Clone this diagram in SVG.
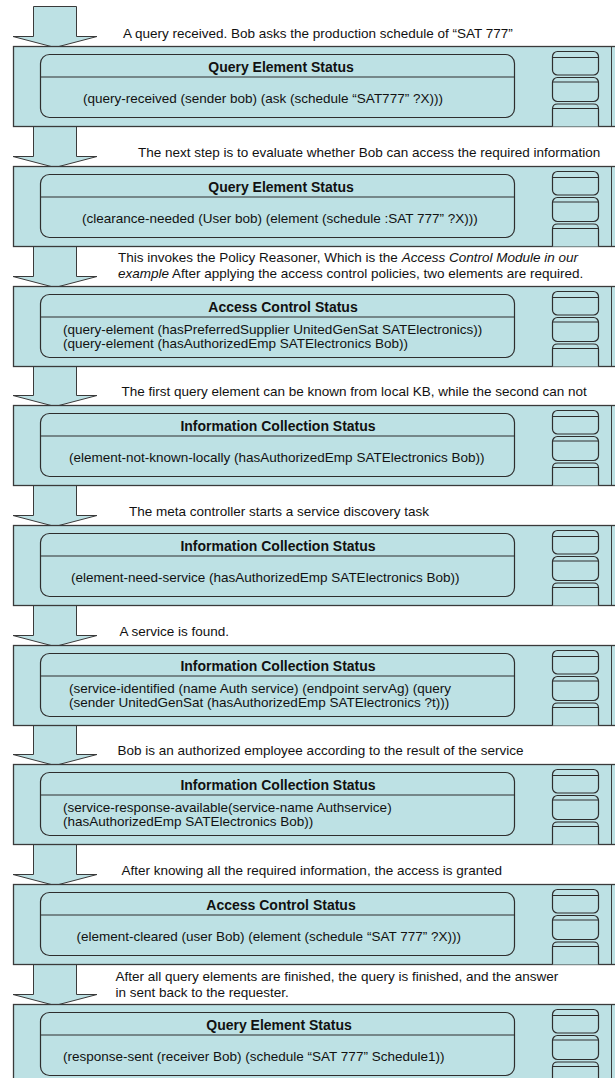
<svg xmlns="http://www.w3.org/2000/svg" xmlns:xlink="http://www.w3.org/1999/xlink" width="615" height="1078" viewBox="0 0 615 1078">
<style>
.fill{fill:#bde1e4;stroke:#3a3a3a;stroke-width:1}
.panel{fill:#bde1e4;stroke:#3a3a3a;stroke-width:1.3}
.ln{stroke:#3a3a3a;stroke-width:1;fill:none}
.rr{fill:none;stroke:#2e2e2e;stroke-width:1.2}
.box{fill:#bde1e4;stroke:#2e2e2e;stroke-width:1.2}
.cap{font-family:"Liberation Sans",Arial,sans-serif;font-size:13.5px;fill:#111}
.hd{font-family:"Liberation Sans",Arial,sans-serif;font-size:14px;font-weight:bold;fill:#111;text-anchor:middle}
.ct{font-family:"Liberation Sans",Arial,sans-serif;font-size:13.5px;fill:#111}
.it{font-style:italic}
</style>
<defs>
<path id="arrow" class="fill" d="M33.5,-40 H76.5 V-10 H97 L55,1 L13,-10 H33.5 Z"/>
<g id="panelBase">
<rect class="panel" x="13.5" y="0" width="610" height="80"/>
<line class="ln" x1="611.5" y1="0" x2="611.5" y2="80"/>
<rect class="rr" x="40.5" y="8" width="474" height="63" rx="9" ry="9"/>
<line class="rr" x1="40.5" y1="30.5" x2="514.5" y2="30.5"/>
<rect class="box" x="552.5" y="5" width="46" height="23.5" rx="5" ry="5"/>
<line class="rr" x1="552.5" y1="11" x2="598.5" y2="11"/>
<rect class="box" x="552.5" y="31" width="46" height="24" rx="5" ry="5"/>
<line class="rr" x1="552.5" y1="35.5" x2="598.5" y2="35.5"/>
<path class="box" d="M552.5,80 V62.5 Q552.5,57.5 557.5,57.5 H593.5 Q598.5,57.5 598.5,62.5 V80"/>
<line class="rr" x1="552.5" y1="62" x2="598.5" y2="62"/>
</g>
</defs>
<g id="connectors">
<g transform="translate(0,46.5)"><use href="#arrow"/><text class="cap" x="123" y="-9">A query received. Bob asks the production schedule of “SAT 777”</text></g>
<g transform="translate(0,166.5)"><use href="#arrow"/><text class="cap" x="138" y="-10">The next step is to evaluate whether Bob can access the required information</text></g>
<g transform="translate(0,286.5)"><use href="#arrow"/><text class="cap" x="118" y="-25">This invokes the Policy Reasoner, Which is the <tspan class="it">Access Control Module in our</tspan></text><text class="cap" x="118" y="-9"><tspan class="it">example</tspan> After applying the access control policies, two elements are required.</text></g>
<g transform="translate(0,405.5)"><use href="#arrow"/><text class="cap" x="121.5" y="-10">The first query element can be known from local KB, while the second can not</text></g>
<g transform="translate(0,525.5)"><use href="#arrow"/><text class="cap" x="129" y="-10">The meta controller starts a service discovery task</text></g>
<g transform="translate(0,645.5)"><use href="#arrow"/><text class="cap" x="119.5" y="-10">A service is found.</text></g>
<g transform="translate(0,764.5)"><use href="#arrow"/><text class="cap" x="117.5" y="-10">Bob is an authorized employee according to the result of the service</text></g>
<g transform="translate(0,884.5)"><use href="#arrow"/><text class="cap" x="121.5" y="-10">After knowing all the required information, the access is granted</text></g>
<g transform="translate(0,1004.5)"><use href="#arrow"/><text class="cap" x="115.5" y="-24">After all query elements are finished, the query is finished, and the answer</text><text class="cap" x="115.5" y="-8">in sent back to the requester.</text></g>
</g>
<g id="n1" transform="translate(0,46.5)"><use href="#panelBase"/><text class="hd" x="281" y="25">Query Element Status</text><text class="ct" x="83" y="56">(query-received (sender bob) (ask (schedule “SAT777” ?X)))</text></g>
<g id="n2" transform="translate(0,166.5)"><use href="#panelBase"/><text class="hd" x="281" y="25">Query Element Status</text><text class="ct" x="82" y="56">(clearance-needed (User bob) (element (schedule :SAT 777” ?X)))</text></g>
<g id="n3" transform="translate(0,286.5)"><use href="#panelBase"/><text class="hd" x="283" y="25">Access Control Status</text><text class="ct" x="63" y="47.5">(query-element (hasPreferredSupplier UnitedGenSat SATElectronics))</text><text class="ct" x="63" y="61.5">(query-element (hasAuthorizedEmp SATElectronics Bob))</text></g>
<g id="n4" transform="translate(0,405.5)"><use href="#panelBase"/><text class="hd" x="278" y="25">Information Collection Status</text><text class="ct" x="69" y="56">(element-not-known-locally (hasAuthorizedEmp SATElectronics Bob))</text></g>
<g id="n5" transform="translate(0,525.5)"><use href="#panelBase"/><text class="hd" x="278" y="25">Information Collection Status</text><text class="ct" x="71" y="56">(element-need-service (hasAuthorizedEmp SATElectronics Bob))</text></g>
<g id="n6" transform="translate(0,645.5)"><use href="#panelBase"/><text class="hd" x="278" y="25">Information Collection Status</text><text class="ct" x="69" y="47.5">(service-identified (name Auth service) (endpoint servAg) (query</text><text class="ct" x="69" y="61.5">(sender UnitedGenSat (hasAuthorizedEmp SATElectronics ?t)))</text></g>
<g id="n7" transform="translate(0,764.5)"><use href="#panelBase"/><text class="hd" x="278" y="25">Information Collection Status</text><text class="ct" x="63" y="47.5">(service-response-available(service-name Authservice)</text><text class="ct" x="63" y="61.5">(hasAuthorizedEmp SATElectronics Bob))</text></g>
<g id="n8" transform="translate(0,884.5)"><use href="#panelBase"/><text class="hd" x="281" y="25">Access Control Status</text><text class="ct" x="76.5" y="56">(element-cleared (user Bob) (element (schedule “SAT 777” ?X)))</text></g>
<g id="n9" transform="translate(0,1004.5)"><use href="#panelBase"/><text class="hd" x="279" y="25">Query Element Status</text><text class="ct" x="63" y="56">(response-sent (receiver Bob) (schedule “SAT 777” Schedule1))</text></g>
</svg>
